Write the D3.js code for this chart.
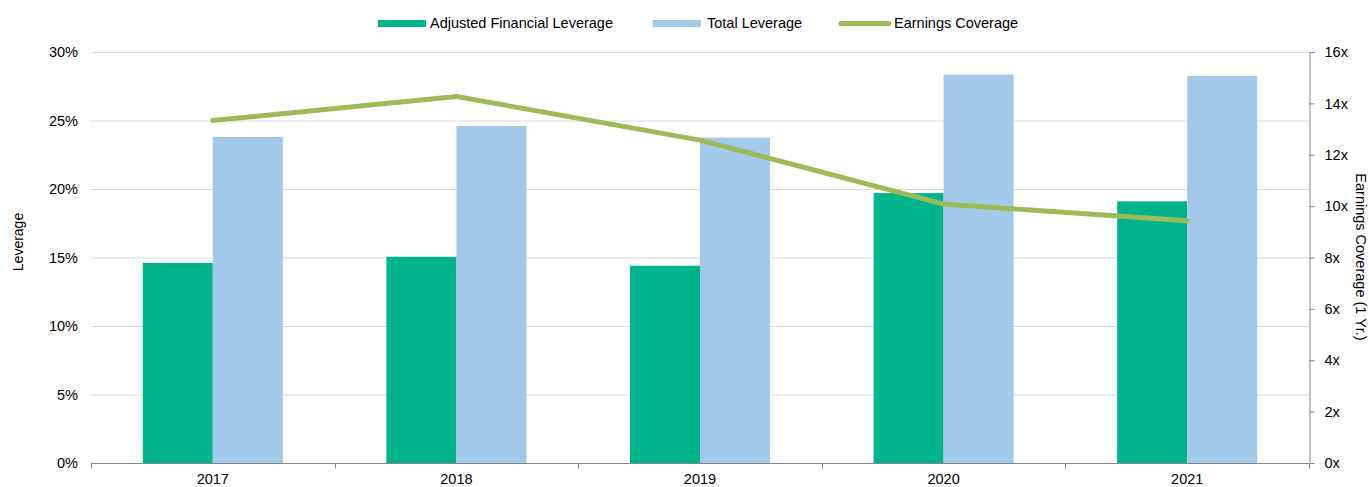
<!DOCTYPE html>
<html><head><meta charset="utf-8">
<script src="https://cdn.jsdelivr.net/npm/d3@7"></script>
<style>body{margin:0;background:#fff;}svg{display:block;font-family:"Liberation Sans",Arial,sans-serif;}</style>
</head><body>
<svg id="chart" width="1369" height="487"></svg>
<script>
const years = ["2017","2018","2019","2020","2021"];
const adjustedFinancialLeverage = [14.6, 15.05, 14.4, 19.7, 19.1];
const totalLeverage = [23.8, 24.6, 23.75, 28.35, 28.25];
const earningsCoverage = [13.33, 14.27, 12.57, 10.08, 9.43];
const leftTicks = [0,5,10,15,20,25,30];
const rightTicks = [0,2,4,6,8,10,12,14,16];
const seriesNames = ["Adjusted Financial Leverage","Total Leverage","Earnings Coverage"];
const colors = {afl:"#00b48c", tl:"#a2c8ea", ec:"#9bbb59"};
const FS = 14.5;

const svg = d3.select("#chart");
const m = {left:91, right:1309, top:52, bottom:463};
const x = d3.scaleBand().domain(years).range([m.left, m.right]).paddingInner(0).paddingOuter(0);
const yL = d3.scaleLinear().domain([0,30]).range([m.bottom, m.top]);
const yR = d3.scaleLinear().domain([0,16]).range([m.bottom, m.top]);
const barW = 70;

// gridlines
svg.append("g").selectAll("line").data(leftTicks.filter(d=>d>0)).join("line")
  .attr("x1", m.left).attr("x2", m.right)
  .attr("y1", d=>yL(d)+0.5).attr("y2", d=>yL(d)+0.5)
  .attr("stroke","#d9d9d9").attr("stroke-width",1);

// bars
const g = svg.append("g");
g.selectAll("rect.afl").data(years).join("rect").attr("class","afl")
  .attr("x", d=>x(d)+x.bandwidth()/2-barW).attr("width", barW)
  .attr("y", (d,i)=>yL(adjustedFinancialLeverage[i]))
  .attr("height", (d,i)=>yL(0)-yL(adjustedFinancialLeverage[i]))
  .attr("fill", colors.afl);
g.selectAll("rect.tl").data(years).join("rect").attr("class","tl")
  .attr("x", d=>x(d)+x.bandwidth()/2).attr("width", barW)
  .attr("y", (d,i)=>yL(totalLeverage[i]))
  .attr("height", (d,i)=>yL(0)-yL(totalLeverage[i]))
  .attr("fill", colors.tl);

// line
const line = d3.line().x((d,i)=>x(years[i])+x.bandwidth()/2).y(d=>yR(d));
svg.append("path").datum(earningsCoverage).attr("d", line)
  .attr("fill","none").attr("stroke",colors.ec).attr("stroke-width",5)
  .attr("stroke-linecap","round").attr("stroke-linejoin","round");

// x axis
const xAxis = svg.append("g").attr("transform",`translate(0,${m.bottom+0.5})`);
xAxis.append("line").attr("x1",m.left).attr("x2",m.right).attr("stroke","#868686");
const bounds = years.map(d=>x(d)).concat([m.right]);
xAxis.selectAll("line.tk").data(bounds).join("line").attr("class","tk")
  .attr("x1",d=>Math.round(d)+0.5).attr("x2",d=>Math.round(d)+0.5).attr("y1",0).attr("y2",5)
  .attr("stroke","#868686");
xAxis.selectAll("text").data(years).join("text")
  .attr("x", d=>x(d)+x.bandwidth()/2).attr("y", 17)
  .attr("text-anchor","middle").attr("dominant-baseline","middle")
  .attr("font-size",FS).attr("fill","#000").text(d=>d);

// left axis
const la = svg.append("g").attr("transform",`translate(${m.left},0)`)
  .call(d3.axisLeft(yL).tickValues(leftTicks).tickFormat(d=>d+"%").tickSize(0).tickPadding(13));
la.select(".domain").remove();
la.selectAll("text").attr("font-size",FS).attr("fill","#000").attr("font-family","Liberation Sans, Arial, sans-serif");

// right axis
const ra = svg.append("g").attr("transform",`translate(${m.right+0.5},0)`)
  .call(d3.axisRight(yR).tickValues(rightTicks).tickFormat(d=>d+"x").tickSizeOuter(0).tickSizeInner(5).tickPadding(10));
ra.select(".domain").attr("stroke","#868686");
ra.selectAll(".tick line").attr("stroke","#868686");
ra.selectAll("text").attr("font-size",FS).attr("fill","#000").attr("font-family","Liberation Sans, Arial, sans-serif");

// axis titles
svg.append("text").attr("transform","translate(23,242) rotate(-90)")
  .attr("text-anchor","middle").attr("font-size",14).text("Leverage");
svg.append("text").attr("transform","translate(1356,257) rotate(90)")
  .attr("text-anchor","middle").attr("font-size",FS).text("Earnings Coverage (1 Yr.)");

// legend
const lg = svg.append("g");
const items = [
  {name:seriesNames[0], type:"rect", color:colors.afl, x:378, tx:430},
  {name:seriesNames[1], type:"rect", color:colors.tl, x:653, tx:707},
  {name:seriesNames[2], type:"line", color:colors.ec, x:839, tx:894}
];
items.forEach(it=>{
  if(it.type==="rect"){
    lg.append("rect").attr("x",it.x).attr("y",20).attr("width",48).attr("height",7).attr("fill",it.color);
  } else {
    lg.append("line").attr("x1",it.x+2).attr("x2",it.x+50).attr("y1",23.5).attr("y2",23.5)
      .attr("stroke",it.color).attr("stroke-width",5).attr("stroke-linecap","round");
  }
  lg.append("text").attr("x",it.tx).attr("y",24).attr("dominant-baseline","middle")
    .attr("font-size",FS).text(it.name);
});
</script>
</body></html>
